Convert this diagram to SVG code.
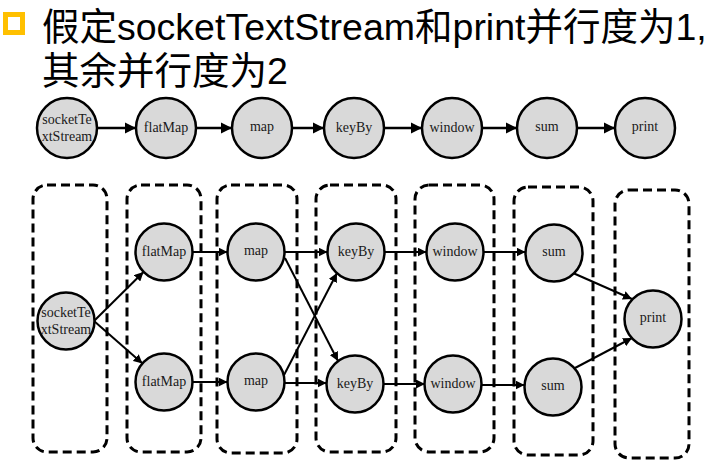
<svg xmlns="http://www.w3.org/2000/svg" width="711" height="460" viewBox="0 0 711 460">
<style>
.title{font-family:"Liberation Sans","Noto Sans CJK SC",Arial,sans-serif;font-size:37.5px;fill:#000}
.nd{fill:#D9D9D9;stroke:#000;stroke-width:2.5}
.lb{font-family:"Liberation Serif","Times New Roman",serif;font-size:14px;fill:#1a1a1a;text-anchor:middle}
.box{fill:none;stroke:#000;stroke-width:3;stroke-dasharray:9 5}
.ed{stroke:#000;stroke-width:2;fill:none;marker-end:url(#ah)}
.ed.top{stroke-width:2.5}
</style>
<defs>
<marker id="ah" viewBox="0 0 10 10" refX="10" refY="5" markerWidth="4.5" markerHeight="4.5" orient="auto" markerUnits="strokeWidth">
<path d="M0,0 L10,5 L0,10 z" fill="#000"/>
</marker>
</defs>
<rect width="711" height="460" fill="#fff"/>
<g id="title">
<rect x="5.5" y="14.5" width="17" height="18" fill="#fff" stroke="#FFC000" stroke-width="5"/>
<text class="title" x="42" y="40">假定socketTextStream和print并行度为1,</text>
<text class="title" x="42" y="84">其余并行度为2</text>
</g>
<g id="partitions">
<rect class="box" x="33" y="185" width="74" height="267" rx="14"/>
<rect class="box" x="127" y="185" width="74" height="267" rx="14"/>
<rect class="box" x="217" y="185" width="80" height="268" rx="14"/>
<rect class="box" x="316" y="185" width="80" height="267" rx="14"/>
<rect class="box" x="415" y="185" width="79" height="267" rx="14"/>
<rect class="box" x="514" y="187" width="79" height="268" rx="14"/>
<rect class="box" x="615" y="190" width="74" height="268" rx="14"/>
</g>
<g id="connectors">
<line class="ed top" x1="97" y1="128" x2="136" y2="128"/>
<line class="ed top" x1="196" y1="128" x2="232" y2="128"/>
<line class="ed top" x1="292" y1="128" x2="324" y2="128"/>
<line class="ed top" x1="384" y1="128" x2="422" y2="128"/>
<line class="ed top" x1="482" y1="128" x2="517" y2="128"/>
<line class="ed top" x1="577" y1="128" x2="615" y2="128"/>
<line class="ed" x1="94" y1="321" x2="143.5" y2="272"/>
<line class="ed" x1="94" y1="321" x2="142.5" y2="363.5"/>
<line class="ed" x1="192.5" y1="252" x2="227.5" y2="252"/>
<line class="ed" x1="192.5" y1="382" x2="227.5" y2="382"/>
<line class="ed" x1="284.5" y1="252" x2="327.5" y2="252"/>
<line class="ed" x1="284.5" y1="383" x2="326.5" y2="383"/>
<line class="ed" x1="285" y1="258" x2="338" y2="361"/>
<line class="ed" x1="284" y1="375" x2="337" y2="273"/>
<line class="ed" x1="385" y1="252" x2="426.5" y2="252"/>
<line class="ed" x1="383.5" y1="384" x2="425" y2="384"/>
<line class="ed" x1="484" y1="252" x2="525.5" y2="252"/>
<line class="ed" x1="482" y1="385" x2="524.5" y2="385"/>
<line class="ed" x1="573" y1="273" x2="632" y2="299"/>
<line class="ed" x1="575" y1="368" x2="632" y2="338"/>
</g>
<g id="t_socket"><circle class="nd" cx="67" cy="128" r="30"/><text class="lb" x="67" y="124">socketTe</text><text class="lb" x="67" y="141">xtStream</text></g>
<g id="t_flatMap"><circle class="nd" cx="166" cy="128" r="30"/><text class="lb" x="166" y="132">flatMap</text></g>
<g id="t_map"><circle class="nd" cx="262" cy="128" r="30"/><text class="lb" x="262" y="131">map</text></g>
<g id="t_keyBy"><circle class="nd" cx="354" cy="128" r="30"/><text class="lb" x="354" y="132">keyBy</text></g>
<g id="t_window"><circle class="nd" cx="452" cy="128" r="30"/><text class="lb" x="452" y="132">window</text></g>
<g id="t_sum"><circle class="nd" cx="547" cy="128" r="30"/><text class="lb" x="547" y="131">sum</text></g>
<g id="t_print"><circle class="nd" cx="645" cy="128" r="30"/><text class="lb" x="645" y="131">print</text></g>
<g id="b_socket"><circle class="nd" cx="66" cy="321" r="28.5"/><text class="lb" x="66" y="317">socketTe</text><text class="lb" x="66" y="334">xtStream</text></g>
<g id="b_flatMap1"><circle class="nd" cx="164" cy="252" r="28.5"/><text class="lb" x="164" y="256">flatMap</text></g>
<g id="b_flatMap2"><circle class="nd" cx="164" cy="382" r="28.5"/><text class="lb" x="164" y="386">flatMap</text></g>
<g id="b_map1"><circle class="nd" cx="256" cy="252" r="28.5"/><text class="lb" x="256" y="255">map</text></g>
<g id="b_map2"><circle class="nd" cx="256" cy="382" r="28.5"/><text class="lb" x="256" y="385">map</text></g>
<g id="b_keyBy1"><circle class="nd" cx="356" cy="252" r="28.5"/><text class="lb" x="356" y="256">keyBy</text></g>
<g id="b_keyBy2"><circle class="nd" cx="355" cy="384" r="28.5"/><text class="lb" x="355" y="388">keyBy</text></g>
<g id="b_window1"><circle class="nd" cx="455" cy="252" r="28.5"/><text class="lb" x="455" y="256">window</text></g>
<g id="b_window2"><circle class="nd" cx="453" cy="384" r="28.5"/><text class="lb" x="453" y="388">window</text></g>
<g id="b_sum1"><circle class="nd" cx="554" cy="253" r="28.5"/><text class="lb" x="554" y="256">sum</text></g>
<g id="b_sum2"><circle class="nd" cx="553" cy="387" r="28.5"/><text class="lb" x="553" y="390">sum</text></g>
<g id="b_print"><circle class="nd" cx="653" cy="319" r="28.5"/><text class="lb" x="653" y="322">print</text></g>
</svg>
